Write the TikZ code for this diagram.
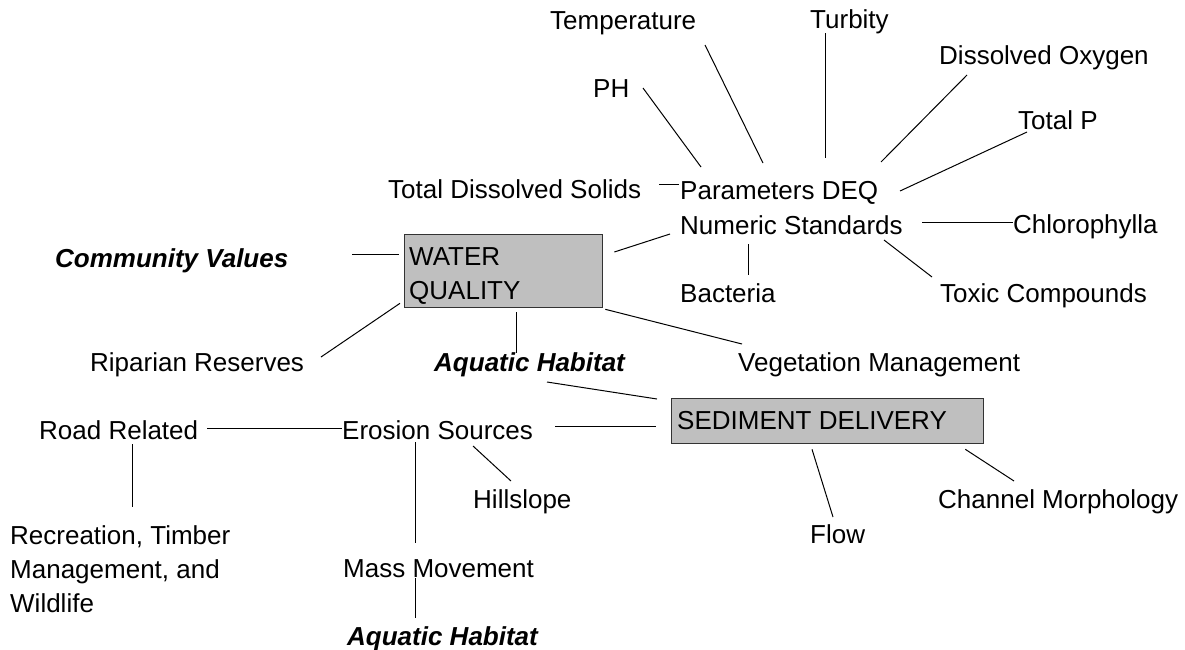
\documentclass[tikz,border=0pt]{standalone}
\usepackage{fontspec}
\setmainfont{Liberation Sans}
\begin{document}
\begin{tikzpicture}[x=1pt,y=-1pt,
  lbl/.style={inner sep=0pt, anchor=base west, font=\fontsize{26}{34}\selectfont},
  emph/.style={lbl, font=\fontsize{26}{34}\selectfont\bfseries\itshape},
  topic/.style={draw=black!80, line width=1.3pt, fill=black!25, inner sep=0pt, anchor=north west},
  link/.style={draw=black, line width=1pt}]
\useasboundingbox (0,0) rectangle (1185,649);

% grey topic boxes
\node[topic, minimum width=198pt, minimum height=73pt] (wq) at (404,234) {};
\node[topic, minimum width=312pt, minimum height=45pt] (sed) at (671,398) {};
\node[lbl] (wqa) at (409,265) {WATER};
\node[lbl] (wqb) at (409,299) {QUALITY};
\node[lbl] (sedt) at (677,429) {SEDIMENT DELIVERY};

% water quality parameters
\node[lbl] (temp) at (550,29) {Temperature};
\node[lbl] (turb) at (810,28) {Turbity};
\node[lbl] (dox) at (939,64) {Dissolved Oxygen};
\node[lbl] (ph) at (593,97) {PH};
\node[lbl] (tp) at (1018,129) {Total P};
\node[lbl] (tds) at (388,198) {Total Dissolved Solids};
\node[lbl] (params) at (680,199) {Parameters DEQ};
\node[lbl] (num) at (680,234) {Numeric Standards};
\node[lbl] (chl) at (1013,233) {Chlorophylla};
\node[lbl] (bac) at (680,302) {Bacteria};
\node[lbl] (tox) at (940,302) {Toxic Compounds};

% around the water quality box
\node[emph] (comm) at (55,267) {Community Values};
\node[lbl] (rip) at (90,371) {Riparian Reserves};
\node[emph] (aqa) at (434,371) {Aquatic Habitat};
\node[lbl] (veg) at (738,371) {Vegetation Management};

% sediment side
\node[lbl] (road) at (39,439) {Road Related};
\node[lbl] (ero) at (342,439) {Erosion Sources};
\node[lbl] (hill) at (473,508) {Hillslope};
\node[lbl] (chan) at (938,508) {Channel Morphology};
\node[lbl] (flow) at (810,543) {Flow};
\node[lbl] (reca) at (10,544) {Recreation, Timber};
\node[lbl] (recb) at (10,578) {Management, and};
\node[lbl] (recc) at (10,612) {Wildlife};
\node[lbl] (mass) at (343,577) {Mass Movement};
\node[emph] (aqb) at (347,645) {Aquatic Habitat};

% connectors to Parameters DEQ
\draw[link] ([shift={(50,-9)}]ph.base west) -- ([shift={(21,-32)}]params.base west);
\draw[link] ([shift={(155,16)}]temp.base west) -- ([shift={(83,-36)}]params.base west);
\draw[link] ([shift={(15,5)}]turb.base west) -- ([shift={(145,-41)}]params.base west);
\draw[link] ([shift={(28,11)}]dox.base west) -- ([shift={(201,-37)}]params.base west);
\draw[link] ([shift={(9,3)}]tp.base west) -- ([shift={(220,-8)}]params.base west);
\draw[link] ([shift={(271,-14)}]tds.base west) -- ([shift={(-1,-15)}]params.base west);

% connectors to Numeric Standards
\draw[link] ([shift={(242,-12)}]num.base west) -- ([shift={(0,-11)}]chl.base west);
\draw[link] ([shift={(204,6)}]num.base west) -- ([shift={(-8,-25)}]tox.base west);
\draw[link] ([shift={(68,10)}]num.base west) -- ([shift={(68,-27)}]bac.base west);
\draw[link] ([shift={(-10,0)}]num.base west) -- ([shift={(11,18)}]wq.north east);

% connectors to the water quality box
\draw[link] ([shift={(297,-13)}]comm.base west) -- ([shift={(-5,20)}]wq.north west);
\draw[link] ([shift={(231,-14)}]rip.base west) -- ([shift={(-4,-5)}]wq.south west);
\draw[link] ([shift={(112,4)}]wq.south west) -- ([shift={(82,-18)}]aqa.base west);
\draw[link] ([shift={(2,1)}]wq.south east) -- ([shift={(4,-27)}]veg.base west);

% connectors to the sediment box
\draw[link] ([shift={(113,11)}]aqa.base west) -- ([shift={(-14,1)}]sed.north west);
\draw[link] ([shift={(213,-13)}]ero.base west) -- ([shift={(-15,28)}]sed.north west);
\draw[link] ([shift={(141,5)}]sed.south west) -- ([shift={(23,-26)}]flow.base west);
\draw[link] ([shift={(-19,5)}]sed.south east) -- ([shift={(76,-27)}]chan.base west);

% erosion sources
\draw[link] ([shift={(168,-11)}]road.base west) -- ([shift={(0,-11)}]ero.base west);
\draw[link] ([shift={(93,5)}]road.base west) -- ([shift={(122,-37)}]reca.base west);
\draw[link] ([shift={(131,7)}]ero.base west) -- ([shift={(38,-27)}]hill.base west);
\draw[link] ([shift={(73,3)}]ero.base west) -- ([shift={(72,-34)}]mass.base west);
\draw[link] ([shift={(72,1)}]mass.base west) -- ([shift={(68,-27)}]aqb.base west);
\end{tikzpicture}
\end{document}
